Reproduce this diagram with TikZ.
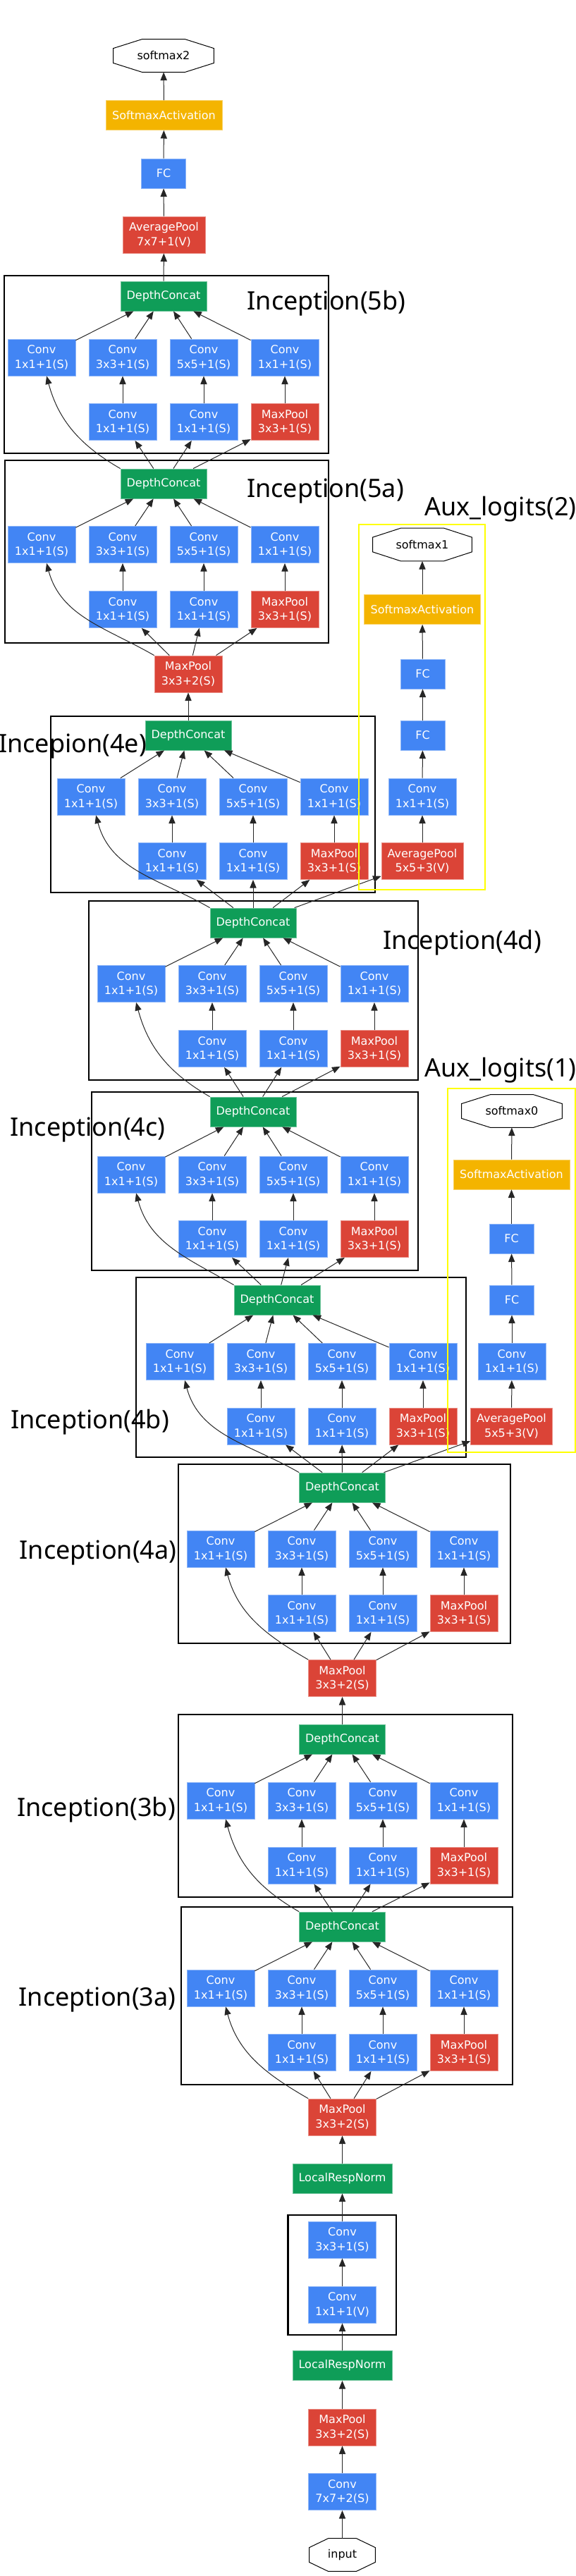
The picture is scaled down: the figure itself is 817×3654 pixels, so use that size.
\documentclass[tikz,border=0pt]{standalone}
\usepackage{fontspec}
\setmainfont{DejaVu Sans}
\newfontfamily\labelfont{Noto Sans}
\usetikzlibrary{arrows.meta}
\definecolor{gblue}{RGB}{66,133,244}
\definecolor{gred}{RGB}{219,68,55}
\definecolor{ggreen}{RGB}{15,157,88}
\definecolor{gyellow}{RGB}{244,180,0}
\definecolor{auxyellow}{RGB}{255,255,0}

% Inception block: name, first column x, upper row y, lower row y, concat x, concat y, input node
\newcommand{\incmod}[7]{
    \node[concat] (#1-dc) at (#5,-#6) {DepthConcat};
    \node[conv] (#1-c1) at (#2,-#3) {Conv\\1x1+1(S)};
    \node[conv] (#1-c2) at ({#2+115},-#3) {Conv\\3x3+1(S)};
    \node[conv] (#1-c3) at ({#2+230},-#3) {Conv\\5x5+1(S)};
    \node[conv] (#1-c4) at ({#2+345},-#3) {Conv\\1x1+1(S)};
    \node[conv] (#1-r2) at ({#2+115},-#4) {Conv\\1x1+1(S)};
    \node[conv] (#1-r3) at ({#2+230},-#4) {Conv\\1x1+1(S)};
    \node[pool] (#1-r4) at ({#2+345},-#4) {MaxPool\\3x3+1(S)};
    \draw[link] (#7.north west) to[out=150, in=-75] (#1-c1);
    \draw[link] (#7) -- (#1-r2);
    \draw[link] (#7) -- (#1-r3);
    \draw[link] (#7) -- (#1-r4);
    \draw[link] (#1-r2) -- (#1-c2);
    \draw[link] (#1-r3) -- (#1-c3);
    \draw[link] (#1-r4) -- (#1-c4);
    \draw[link] (#1-c1) -- (#1-dc);
    \draw[link] (#1-c2) -- (#1-dc);
    \draw[link] (#1-c3) -- (#1-dc);
    \draw[link] (#1-c4) -- (#1-dc);
}

% Octagon outline round a node: name, horizontal cut
\newcommand{\octframe}[2]{
    \draw[line width=0.5pt] ([xshift=#2]#1.north west) -- ([xshift=-#2]#1.north east)
        -- ([yshift=-6.5pt]#1.north east) -- ([yshift=6.5pt]#1.south east)
        -- ([xshift=-#2]#1.south east) -- ([xshift=#2]#1.south west)
        -- ([yshift=6.5pt]#1.south west) -- ([yshift=-6.5pt]#1.north west) -- cycle;
}

\begin{document}
\begin{tikzpicture}[x=0.5pt, y=0.5pt, >={Triangle[length=5.8pt,width=4.6pt]},
    layer/.style={rectangle, inner sep=0pt, align=center, text=white, line width=0.4pt,
        font=\fontsize{8}{10.3}\selectfont},
    conv/.style={layer, fill=gblue, draw=gblue!60!white, minimum width=48pt, minimum height=26pt},
    pool/.style={layer, fill=gred, draw=gred!60!white, minimum width=48pt, minimum height=26pt},
    concat/.style={layer, fill=ggreen, draw=ggreen!60!white, minimum width=61pt, minimum height=21pt},
    fc/.style={layer, fill=gblue, draw=gblue!60!white, minimum width=31.5pt, minimum height=21pt},
    act/.style={layer, fill=gyellow, draw=gyellow!60!white, minimum width=82.5pt, minimum height=21pt},
    oct/.style={rectangle, inner sep=0pt, minimum width=71pt, minimum height=23pt,
        font=\fontsize{8}{10.3}\selectfont},
    link/.style={->, line width=0.5pt, black!85},
    block/.style={line width=1.2pt, black},
    auxbox/.style={line width=1.2pt, auxyellow},
    blocklabel/.style={font=\labelfont\fontsize{18}{20}\selectfont, inner sep=0pt}]
    \useasboundingbox (0,0) rectangle (817,-3654);

    % Frames
    \draw[block] (6,-391) rectangle (466,-643);
    \draw[block] (7,-653) rectangle (466,-912);
    \draw[block] (72,-1016) rectangle (532,-1266);
    \draw[block] (126,-1278) rectangle (593,-1532);
    \draw[block] (130,-1549) rectangle (593,-1802);
    \draw[block] (193,-1812) rectangle (661,-2067);
    \draw[block] (253,-2077) rectangle (724,-2331);
    \draw[block] (253,-2432) rectangle (727,-2691);
    \draw[block] (257,-2705) rectangle (727,-2957);
    \draw[block] (408.5,-3142) rectangle (562,-3312);

    % Stem
    \node[oct, minimum width=46.5pt] (input) at (485.5,-3624) {input};
    \octframe{input}{13.5pt}
    \node[conv] (conv1) at (485.5,-3534.5) {Conv\\7x7+2(S)};
    \node[pool] (pool1) at (485.5,-3443) {MaxPool\\3x3+2(S)};
    \node[concat, minimum width=70.5pt] (norm1) at (485.5,-3355.5) {LocalRespNorm};
    \node[conv] (conv2) at (485.5,-3269) {Conv\\1x1+1(V)};
    \node[conv] (conv3) at (485.5,-3177) {Conv\\3x3+1(S)};
    \node[concat, minimum width=70.5pt] (norm2) at (485.5,-3090) {LocalRespNorm};
    \node[pool] (pool2) at (485.5,-3003) {MaxPool\\3x3+2(S)};
    \draw[link] (input) -- (conv1);
    \draw[link] (conv1) -- (pool1);
    \draw[link] (pool1) -- (norm1);
    \draw[link] (norm1) -- (conv2);
    \draw[link] (conv2) -- (conv3);
    \draw[link] (conv3) -- (norm2);
    \draw[link] (norm2) -- (pool2);

    % Inception 3
    \incmod{i3a}{313}{2820}{2911.5}{485.5}{2733}{pool2}
    \incmod{i3b}{313}{2554}{2646}{485.5}{2467}{i3a-dc}
    \node[pool] (pool3) at (485.5,-2380.5) {MaxPool\\3x3+2(S)};
    \draw[link] (i3b-dc) -- (pool3);

    % Inception 4
    \incmod{i4a}{313}{2197}{2288.5}{485.5}{2110}{pool3}
    \incmod{i4b}{255}{1931.5}{2023}{393}{1844}{i4a-dc}
    \incmod{i4c}{186}{1666}{1757.5}{359}{1577}{i4b-dc}
    \incmod{i4d}{186}{1395.5}{1487.5}{359}{1309}{i4c-dc}
    \incmod{i4e}{129}{1130}{1221.5}{267}{1043}{i4d-dc}
    \node[pool] (pool4) at (267,-956) {MaxPool\\3x3+2(S)};
    \draw[link] (i4e-dc) -- (pool4);

    % Inception 5
    \incmod{i5a}{59}{772.5}{864.5}{232}{686}{pool4}
    \incmod{i5b}{59}{507}{598.5}{232}{420}{i5a-dc}

    % Main head
    \node[pool, minimum width=58.5pt] (avg) at (232.5,-333) {AveragePool\\7x7+1(V)};
    \node[fc] (fc) at (232,-246) {FC};
    \node[act] (act) at (232.5,-163.5) {SoftmaxActivation};
    \node[oct] (sm2) at (232,-79) {softmax2};
    \octframe{sm2}{20.5pt}
    \draw[link] (i5b-dc) -- (avg);
    \draw[link] (avg) -- (fc);
    \draw[link] (fc) -- (act);
    \draw[link] (act) -- (sm2);

    % Auxiliary head 1
    \node[pool, minimum width=58pt] (aux1-avg) at (725.5,-2023) {AveragePool\\5x5+3(V)};
    \node[conv] (aux1-conv) at (726,-1931.5) {Conv\\1x1+1(S)};
    \node[fc] (aux1-fc1) at (726,-1844) {FC};
    \node[fc] (aux1-fc2) at (725.5,-1757) {FC};
    \node[act] (aux1-act) at (725.5,-1666) {SoftmaxActivation};
    \node[oct] (sm0) at (726,-1576) {softmax0};
    \octframe{sm0}{20.5pt}
    \draw[link] (i4a-dc) -- (aux1-avg);
    \draw[link] (aux1-avg) -- (aux1-conv);
    \draw[link] (aux1-conv) -- (aux1-fc1);
    \draw[link] (aux1-fc1) -- (aux1-fc2);
    \draw[link] (aux1-fc2) -- (aux1-act);
    \draw[link] (aux1-act) -- (sm0);

    % Auxiliary head 2
    \node[pool, minimum width=58pt] (aux2-avg) at (599,-1221.5) {AveragePool\\5x5+3(V)};
    \node[conv] (aux2-conv) at (599,-1130) {Conv\\1x1+1(S)};
    \node[fc] (aux2-fc1) at (599.5,-1043) {FC};
    \node[fc] (aux2-fc2) at (599.5,-956) {FC};
    \node[act] (aux2-act) at (599,-864.5) {SoftmaxActivation};
    \node[oct, minimum width=70pt] (sm1) at (599,-772.5) {softmax1};
    \octframe{sm1}{20pt}
    \draw[link] (i4d-dc) -- (aux2-avg);
    \draw[link] (aux2-avg) -- (aux2-conv);
    \draw[link] (aux2-conv) -- (aux2-fc1);
    \draw[link] (aux2-fc1) -- (aux2-fc2);
    \draw[link] (aux2-fc2) -- (aux2-act);
    \draw[link] (aux2-act) -- (sm1);

    \draw[auxbox] (509,-744) rectangle (688,-1262);
    \draw[auxbox] (635,-1544) rectangle (816,-2060);

    % Labels
    \node[blocklabel] (t5b) at (463,-430) {Inception(5b)};
    \node[blocklabel] (t5a) at (461.5,-697) {Inception(5a)};
    \node[blocklabel] (tx2) at (710,-722) {Aux\_logits(2)};
    \node[blocklabel] (t4e) at (103,-1059) {Incepion(4e)};
    \node[blocklabel] (t4d) at (655.5,-1337) {Inception(4d)};
    \node[blocklabel] (tx1) at (710,-1518) {Aux\_logits(1)};
    \node[blocklabel] (t4c) at (124.5,-1603) {Inception(4c)};
    \node[blocklabel] (t4b) at (127.5,-2017) {Inception(4b)};
    \node[blocklabel] (t4a) at (139,-2203) {Inception(4a)};
    \node[blocklabel] (t3b) at (136.5,-2567) {Inception(3b)};
    \node[blocklabel] (t3a) at (138,-2837) {Inception(3a)};
\end{tikzpicture}
\end{document}
